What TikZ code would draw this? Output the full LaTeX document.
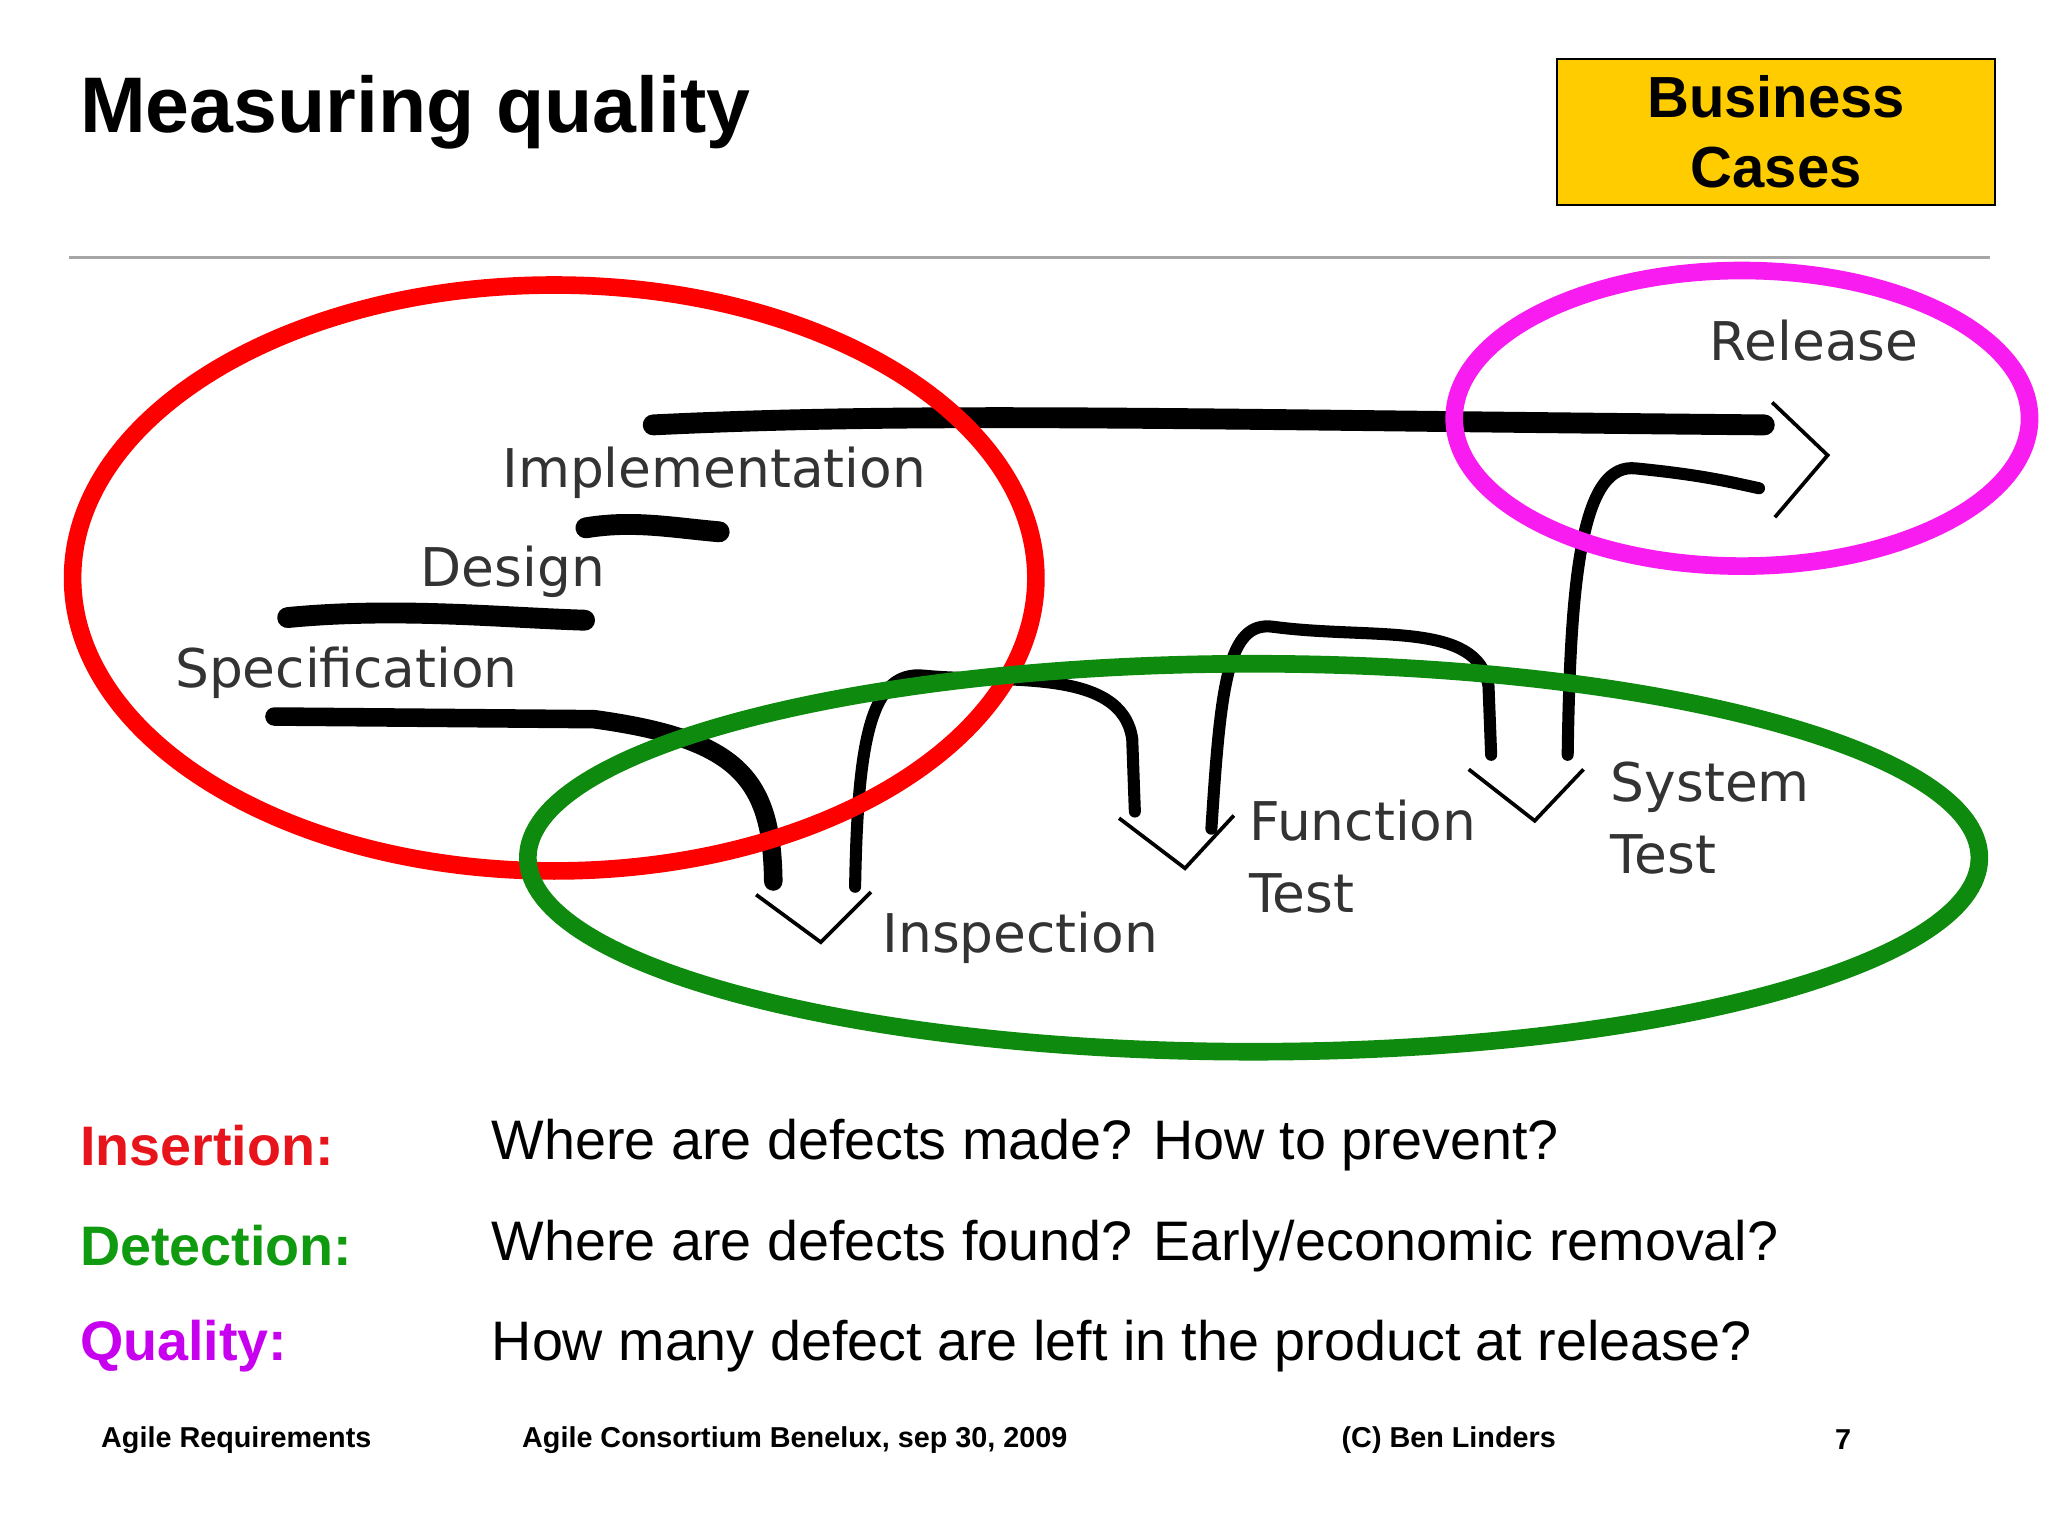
\documentclass[tikz,border=0pt]{standalone}
\usepackage{fontspec}
\setmainfont{Liberation Sans}
\newfontfamily\stagefont{DejaVu Sans}
\definecolor{insred}{HTML}{E8141B}
\definecolor{detgreen}{HTML}{0F9A0F}
\definecolor{qualmag}{HTML}{C800F0}
\definecolor{releasemag}{HTML}{F81CF0}
\definecolor{bizyellow}{HTML}{FFCC00}
\begin{document}
\begin{tikzpicture}[x=0.01cm,y=-0.01cm]
		\tikzstyle{stage}=[anchor=west,inner sep=0pt,font=\stagefont\fontsize{11.5}{13.5}\selectfont,text=black!80]
		\tikzstyle{stroke}=[line width=4.5pt,line cap=round]
		\tikzstyle{tip}=[line width=0.8pt]
		\tikzstyle{ring}=[line width=3.8pt]
		\tikzstyle{keyword}=[anchor=west,inner sep=0pt,font=\bfseries\fontsize{12}{14}\selectfont]
		\tikzstyle{question}=[anchor=west,inner sep=0pt,font=\fontsize{12}{14}\selectfont]
		\tikzstyle{foot}=[anchor=west,inner sep=0pt,font=\bfseries\fontsize{6.2}{8}\selectfont]
		\useasboundingbox (0,0) rectangle (1552,1164);
		% title and box
		\node[anchor=west,inner sep=0pt,font=\bfseries\fontsize{17}{19}\selectfont](title) at (60,85){Measuring quality};
		\node[draw,fill=bizyellow,minimum width=3.32cm,minimum height=1.1cm,align=center,font=\bfseries\fontsize{12.5}{15}\selectfont](biz) at (1346,100){Business\\ Cases};
		\draw[gray!70,line width=0.6pt] (52,195) -- (1508,195);
		% process stages
		\node[stage](impl) at (380,358){Implementation};
		\node[stage](design) at (318,433){Design};
		\node[stage](spec) at (132,510){Specification};
		\node[stage](release) at (1295,258){Release};
		\node[stage,align=left](ftest) at (946,649){Function\\[2pt]Test};
		\node[stage,align=left](stest) at (1220,620){System\\[2pt]Test};
		\node[stage](insp) at (668,711){Inspection};
		% hand-drawn strokes
		\draw[stroke] (444,400) .. controls (480,394) and (510,400) .. (545,403);
		\draw[stroke] (218,468) .. controls (300,460) and (380,468) .. (443,470);
		\draw[stroke,line width=4pt] (208,543) -- (450,545) .. controls (560,560) and (585,590) .. (586,668);
		\draw[tip] (573,678) -- (622,714) -- (660,676);
		\draw[stroke,line width=2.6pt] (648,672) .. controls (650,560) and (660,508) .. (700,512) .. controls (760,518) and (850,505) .. (858,560) -- (860,615);
		\draw[tip] (848,620) -- (898,658) -- (935,618);
		\draw[stroke,line width=2.6pt] (918,628) .. controls (925,520) and (930,470) .. (965,475) .. controls (1040,485) and (1120,470) .. (1128,520) -- (1130,572);
		\draw[tip] (1113,583) -- (1163,622) -- (1200,583);
		\draw[stroke,line width=2.6pt] (1188,572) .. controls (1190,430) and (1200,350) .. (1240,355) .. controls (1290,360) and (1310,365) .. (1333,370);
		\draw[stroke] (495,322) .. controls (700,312) and (900,318) .. (1337,322);
		\draw[tip] (1343,305) -- (1385,345) -- (1345,392);
		% rings
		\draw[ring,red] (420,438) ellipse [x radius=365,y radius=222];
		\draw[ring,releasemag] (1320,317) ellipse [x radius=218,y radius=112];
		\draw[ring,detgreen!90!black] (950,650) ellipse [x radius=550,y radius=147];
		% questions
		\node[keyword,text=insred](ins) at (60,868){Insertion:};
		\node[keyword,text=detgreen](det) at (60,944){Detection:};
		\node[keyword,text=qualmag](qual) at (60,1020){Quality:};
		\node[question](q-ins) at (372,868){Where are defects made? How to prevent?};
		\node[question](q-det) at (372,944){Where are defects found? Early/economic removal?};
		\node[question](q-qual) at (372,1020){How many defect are left in the product at release?};
		% footer
		\node[foot](f-1) at (76,1091){Agile Requirements};
		\node[foot](f-2) at (395,1091){Agile Consortium Benelux, sep 30, 2009};
		\node[foot](f-3) at (1016,1091){(C) Ben Linders};
		\node[foot](f-4) at (1390,1091){7};
\end{tikzpicture}
\end{document}
